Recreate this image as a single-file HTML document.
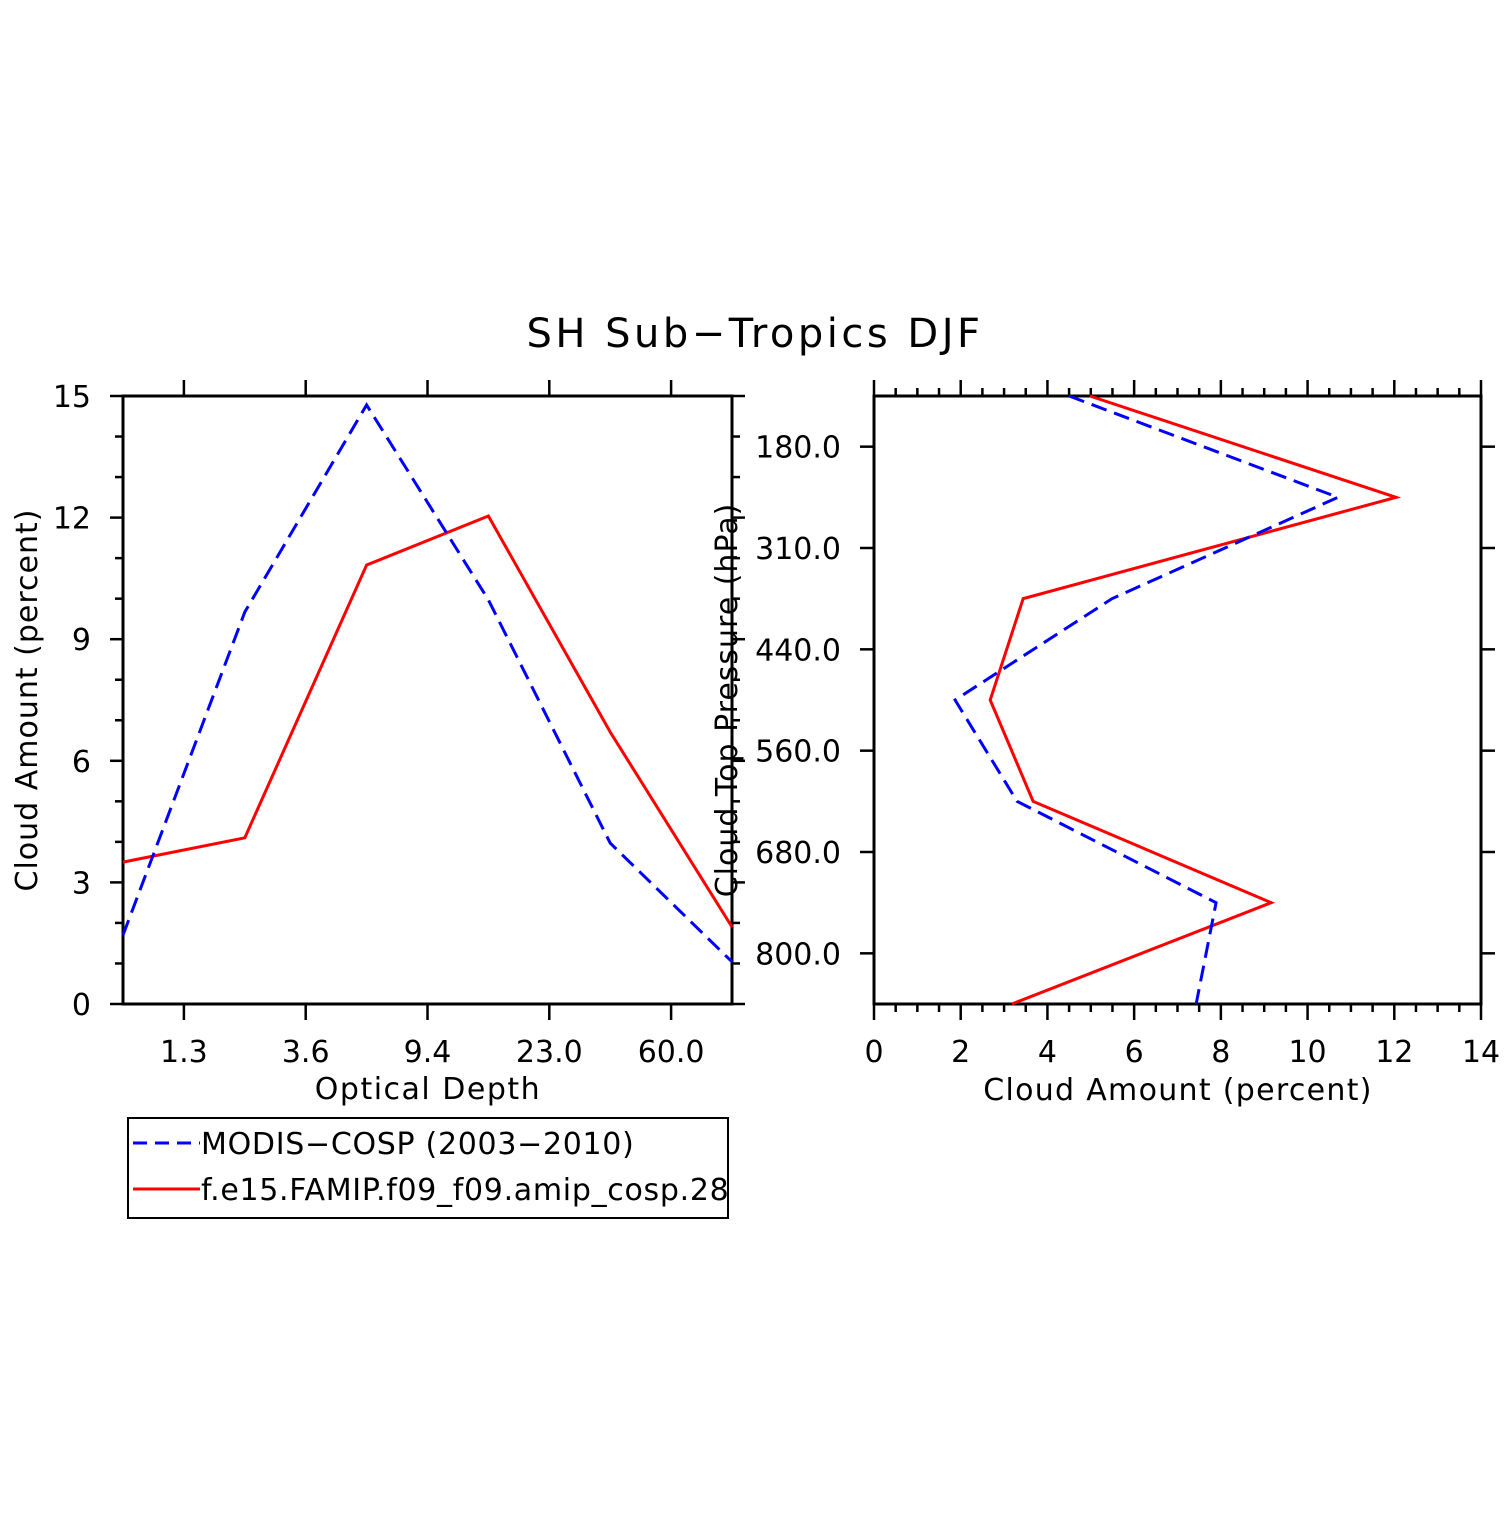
<!DOCTYPE html>
<html><head><meta charset="utf-8"><style>
body{margin:0;background:#fff}
svg text{font-family:"DejaVu Sans","Liberation Sans",sans-serif;fill:#000}
</style></head><body>
<svg id="c" width="1510" height="1510" viewBox="0 0 1510 1510" xmlns="http://www.w3.org/2000/svg">
<text x="755" y="347" font-size="40" text-anchor="middle" letter-spacing="3.5">SH Sub−Tropics DJF</text>
<g id="g"></g>
</svg>
<script>
const tauLabels=["1.3","3.6","9.4","23.0","60.0"];
const tauBlue=[1.7,9.67,14.78,9.97,3.97,1.04];
const tauRed=[3.5,4.1,10.83,12.04,6.71,1.9];
const presLabels=["180.0","310.0","440.0","560.0","680.0","800.0"];
const presBlue=[4.5,10.7,5.49,1.87,3.3,7.89,7.43];
const presRed=[4.98,12.04,3.44,2.68,3.67,9.16,3.18];
const leftYTicks=[0,3,6,9,12,15];
const rightXTicks=[0,2,4,6,8,10,12,14];
const names=["MODIS−COSP (2003−2010)","f.e15.FAMIP.f09_f09.amip_cosp.28"];

const NS="http://www.w3.org/2000/svg";
const g=document.getElementById('g');
function el(t,a,txt){const e=document.createElementNS(NS,t);for(const k in a)e.setAttribute(k,a[k]);if(txt!==undefined)e.textContent=txt;g.appendChild(e);return e;}
function ln(x1,y1,x2,y2,w){return el('line',{x1,y1,x2,y2,stroke:'#000','stroke-width':w||2.5});}

// Left panel
const L={x0:123,x1:732,y0:396,y1:1004};
const lx=i=>L.x0+(L.x1-L.x0)*i/5;
const ly=v=>L.y1-(L.y1-L.y0)*v/15;
let r=el('rect',{x:L.x0,y:L.y0,width:L.x1-L.x0,height:L.y1-L.y0,fill:'none',stroke:'#000','stroke-width':3});

for(let v=0;v<=15;v++){const maj=v%3===0;const len=maj?13:8;const y=ly(v);
 ln(L.x0-len,y,L.x0,y);ln(L.x1,y,L.x1+len,y);}
leftYTicks.forEach(v=>{const t=el('text',{x:L.x0-32,y:ly(v)+11,'font-size':30,'text-anchor':'end'},String(v));
 });
tauLabels.forEach((s,i)=>{const x=lx(i+0.5);ln(x,L.y0-16,x,L.y0);ln(x,L.y1,x,L.y1+16);
 const t=el('text',{x:x,y:1062,'font-size':30,'text-anchor':'middle'},s);
 });
let t=el('text',{x:428,y:1099,'font-size':30,'text-anchor':'middle','letter-spacing':1.5},'Optical Depth');

t=el('text',{x:37,y:700,'font-size':30,'text-anchor':'middle','letter-spacing':1,transform:'rotate(-90 37 700)'},'Cloud Amount (percent)');

function poly(pts,color,dash,name){const p=el('polyline',{points:pts.map(q=>q.join(',')).join(' '),fill:'none',stroke:color,'stroke-width':3,'stroke-dasharray':dash||'none','stroke-linejoin':'miter'});
 }
poly(tauRed.map((v,i)=>[lx(i),ly(v)]),'#f00',null,'left-model-line');
poly(tauBlue.map((v,i)=>[lx(i),ly(v)]),'#00f','16 8','left-modis-line');

// Right panel
const R={x0:874,x1:1481,y0:396,y1:1004};
const rx=v=>R.x0+(R.x1-R.x0)*v/14;
const ry=i=>R.y0+(R.y1-R.y0)*i/6;
r=el('rect',{x:R.x0,y:R.y0,width:R.x1-R.x0,height:R.y1-R.y0,fill:'none',stroke:'#000','stroke-width':3});

for(let k=0;k<=28;k++){const v=k/2;const maj=k%4===0;const len=maj?16:8;const x=rx(v);
 ln(x,R.y1,x,R.y1+len);ln(x,R.y0-len,x,R.y0);}
rightXTicks.forEach(v=>{const t=el('text',{x:rx(v),y:1062,'font-size':30,'text-anchor':'middle'},String(v));
 });
presLabels.forEach((s,i)=>{const y=ry(i+0.5);ln(R.x0-14,y,R.x0,y);ln(R.x1,y,R.x1+14,y);
 const t=el('text',{x:841,y:y+11,'font-size':30,'text-anchor':'end'},s);
 });
t=el('text',{x:1178,y:1100,'font-size':30,'text-anchor':'middle','letter-spacing':1.3},'Cloud Amount (percent)');

t=el('text',{x:737,y:700,'font-size':30,'text-anchor':'middle','letter-spacing':1,transform:'rotate(-90 737 700)'},'Cloud Top Pressure (hPa)');

poly(presRed.map((v,i)=>[rx(v),ry(i)]),'#f00',null,'right-model-line');
poly(presBlue.map((v,i)=>[rx(v),ry(i)]),'#00f','16 8','right-modis-line');

// Legend
r=el('rect',{x:128,y:1118,width:600,height:100,fill:'none',stroke:'#000','stroke-width':2});

[['#00f','14 8',1143],['#f00','none',1189]].forEach((c,i)=>{
 const l=el('line',{x1:133,y1:c[2],x2:200,y2:c[2],stroke:c[0],'stroke-width':3,'stroke-dasharray':c[1]});
 
 const tt=el('text',{x:201,y:c[2]+11,'font-size':30,'letter-spacing':0.7},names[i]);
 });
</script>
</body></html>
